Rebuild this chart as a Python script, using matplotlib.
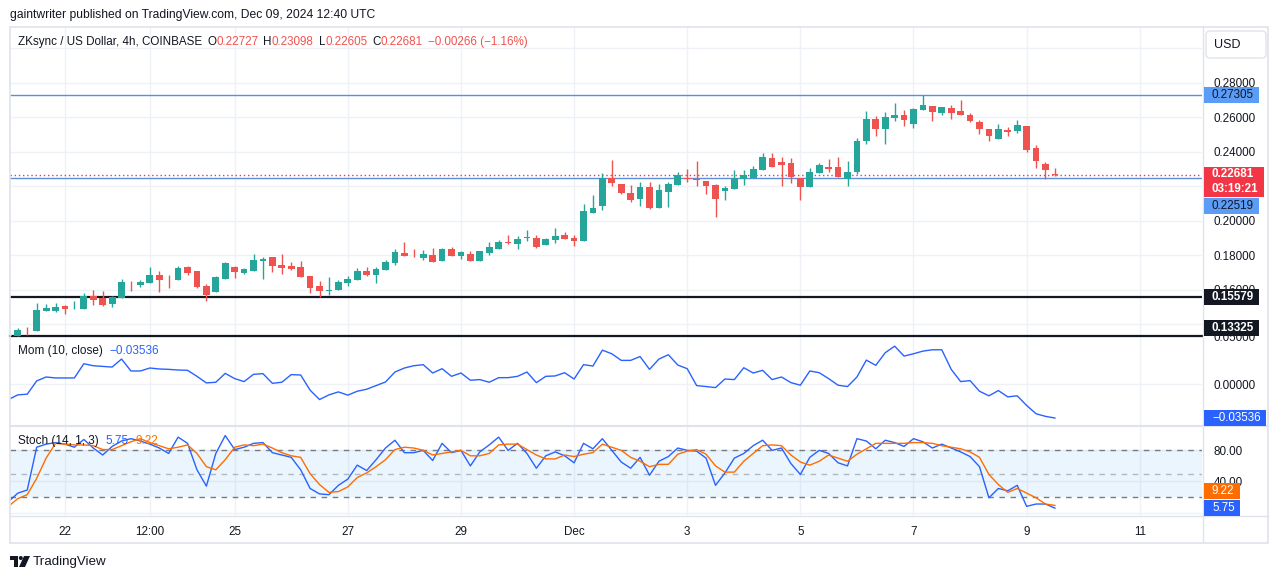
import numpy as np
import matplotlib
matplotlib.use('Agg')
import matplotlib.pyplot as plt
from matplotlib.patches import Rectangle, FancyBboxPatch, Polygon, Circle

plt.rcParams['font.family'] = ['Liberation Sans', 'DejaVu Sans']

# 4h candles ZKsync / USD, k = 0 -> Nov 21 00:00
opens = [0.1336, 0.1333, 0.1368, 0.1362, 0.1478, 0.1478, 0.1507, 0.1493, 0.1490, 0.1565,
         0.1554, 0.1519, 0.1554, 0.1635, 0.1629, 0.1641, 0.1687, 0.1664, 0.1658, 0.1733,
         0.1710, 0.1623, 0.1588, 0.1664, 0.1733, 0.1699, 0.1710, 0.1768, 0.1791, 0.1745,
         0.1739, 0.1733, 0.1681, 0.1623, 0.1594, 0.1600, 0.1641, 0.1658, 0.1710, 0.1687,
         0.1716, 0.1757, 0.1814, 0.1803, 0.1786, 0.1803, 0.1768, 0.1838, 0.1797, 0.1809,
         0.1768, 0.1814, 0.1838, 0.1875, 0.1867, 0.1904, 0.1901, 0.1861, 0.1890, 0.1919,
         0.1901, 0.1884, 0.2046, 0.2087, 0.2249, 0.2214, 0.2162, 0.2127, 0.2197, 0.2075,
         0.2168, 0.2209, 0.2249, 0.2240, 0.2232, 0.2209, 0.2174, 0.2186, 0.2244, 0.2249,
         0.2296, 0.2365, 0.2342, 0.2336, 0.2249, 0.2197, 0.2278, 0.2313, 0.2313, 0.2244,
         0.2284, 0.2464, 0.2591, 0.2533, 0.2597, 0.2614, 0.2562, 0.2643, 0.2667, 0.2626,
         0.2655, 0.2638, 0.2614, 0.2574, 0.2533, 0.2475, 0.2527, 0.2522, 0.2551, 0.2423,
         0.2330, 0.22727]
highs = [0.1338, 0.1378, 0.1385, 0.1525, 0.1519, 0.1525, 0.1513, 0.1536, 0.1583, 0.1600,
         0.1594, 0.1562, 0.1664, 0.1652, 0.1658, 0.1733, 0.1710, 0.1687, 0.1739, 0.1739,
         0.1711, 0.1635, 0.1681, 0.1762, 0.1739, 0.1727, 0.1809, 0.1791, 0.1792, 0.1809,
         0.1762, 0.1768, 0.1682, 0.1652, 0.1675, 0.1658, 0.1681, 0.1727, 0.1733, 0.1733,
         0.1774, 0.1838, 0.1878, 0.1838, 0.1832, 0.1843, 0.1843, 0.1849, 0.1826, 0.1826,
         0.1827, 0.1878, 0.1890, 0.1919, 0.1913, 0.1948, 0.1919, 0.1901, 0.1959, 0.1936,
         0.1919, 0.2099, 0.2151, 0.2278, 0.2354, 0.2215, 0.2209, 0.2226, 0.2226, 0.2214,
         0.2226, 0.2284, 0.2301, 0.2348, 0.2233, 0.2214, 0.2203, 0.2296, 0.2296, 0.2319,
         0.2394, 0.2394, 0.2371, 0.2365, 0.2250, 0.2307, 0.2336, 0.2359, 0.2371, 0.2348,
         0.2481, 0.2638, 0.2609, 0.2632, 0.2684, 0.2643, 0.2655, 0.2730, 0.2668, 0.2662,
         0.2672, 0.2701, 0.2626, 0.2586, 0.2534, 0.2562, 0.2545, 0.2586, 0.2552, 0.2441,
         0.2342, 0.23098]
lows = [0.1330, 0.1331, 0.1338, 0.1360, 0.1476, 0.1472, 0.1461, 0.1492, 0.1488, 0.1513,
        0.1507, 0.1501, 0.1553, 0.1594, 0.1617, 0.1640, 0.1588, 0.1612, 0.1657, 0.1687,
        0.1612, 0.1536, 0.1587, 0.1663, 0.1670, 0.1693, 0.1709, 0.1664, 0.1704, 0.1693,
        0.1716, 0.1674, 0.1583, 0.1559, 0.1571, 0.1599, 0.1623, 0.1657, 0.1681, 0.1641,
        0.1715, 0.1745, 0.1796, 0.1791, 0.1774, 0.1761, 0.1767, 0.1796, 0.1780, 0.1767,
        0.1767, 0.1803, 0.1837, 0.1867, 0.1838, 0.1884, 0.1843, 0.1860, 0.1872, 0.1895,
        0.1855, 0.1883, 0.2045, 0.2064, 0.2203, 0.2157, 0.2110, 0.2087, 0.2070, 0.2074,
        0.2081, 0.2208, 0.2226, 0.2203, 0.2157, 0.2023, 0.2122, 0.2185, 0.2209, 0.2248,
        0.2295, 0.2312, 0.2203, 0.2220, 0.2122, 0.2196, 0.2277, 0.2284, 0.2254, 0.2203,
        0.2272, 0.2446, 0.2493, 0.2446, 0.2580, 0.2551, 0.2539, 0.2642, 0.2580, 0.2614,
        0.2591, 0.2613, 0.2574, 0.2504, 0.2464, 0.2474, 0.2493, 0.2510, 0.2400, 0.2307,
        0.2244, 0.22605]
closes = [0.1333, 0.1367, 0.1365, 0.1484, 0.1496, 0.1501, 0.1490, 0.1496, 0.1565, 0.1542,
          0.1513, 0.1559, 0.1646, 0.1632, 0.1646, 0.1687, 0.1658, 0.1661, 0.1727, 0.1699,
          0.1617, 0.1571, 0.1675, 0.1757, 0.1704, 0.1722, 0.1774, 0.1780, 0.1739, 0.1727,
          0.1722, 0.1675, 0.1612, 0.1594, 0.1597, 0.1646, 0.1664, 0.1710, 0.1687, 0.1722,
          0.1762, 0.1820, 0.1797, 0.1800, 0.1809, 0.1762, 0.1838, 0.1797, 0.1820, 0.1768,
          0.1826, 0.1849, 0.1878, 0.1872, 0.1896, 0.1907, 0.1849, 0.1896, 0.1913, 0.1896,
          0.1884, 0.2058, 0.2075, 0.2249, 0.2220, 0.2162, 0.2122, 0.2197, 0.2075, 0.2180,
          0.2214, 0.2267, 0.2246, 0.2237, 0.2203, 0.2127, 0.2191, 0.2249, 0.2267, 0.2301,
          0.2371, 0.2313, 0.2325, 0.2255, 0.2197, 0.2284, 0.2325, 0.2301, 0.2255, 0.2284,
          0.2464, 0.2591, 0.2533, 0.2603, 0.2614, 0.2586, 0.2649, 0.2672, 0.2632, 0.2661,
          0.2626, 0.2614, 0.2580, 0.2533, 0.2493, 0.2533, 0.2516, 0.2557, 0.2412, 0.2348,
          0.22947, 0.22681]

# Momentum (10, close)
mom = [-0.0160, -0.0111, -0.0104, 0.0035, 0.0076, 0.0066, 0.0066, 0.0066, 0.0215, 0.0194,
       0.0187, 0.0180, 0.0264, 0.0139, 0.0139, 0.0170, 0.0160, 0.0156, 0.0149, 0.0146,
       0.0083, 0.0014, 0.0021, 0.0114, 0.0059, 0.0028, 0.0104, 0.0111, 0.0010, 0.0021,
       0.0101, 0.0097, -0.0062, -0.0160, -0.0111, -0.0080, -0.0114, -0.0073, -0.0052, -0.0014,
       0.0024, 0.0128, 0.0170, 0.0194, 0.0205, 0.0118, 0.0163, 0.0083, 0.0118, 0.0042,
       0.0049, 0.0021, 0.0069, 0.0069, 0.0083, 0.0128, 0.0017, 0.0083, 0.0087, 0.0121,
       0.0055, 0.0205, 0.0191, 0.0357, 0.0319, 0.0250, 0.0250, 0.0290, 0.0156, 0.0264,
       0.0309, 0.0201, 0.0163, -0.0014, -0.0024, -0.0035, 0.0055, 0.0049, 0.0173, 0.0118,
       0.0146, 0.0049, 0.0076, 0.0017, -0.0010, 0.0139, 0.0121, 0.0059, -0.0010, -0.0024,
       0.0076, 0.0253, 0.0198, 0.0330, 0.0399, 0.0295, 0.0319, 0.0347, 0.0361, 0.0361,
       0.0156, 0.0028, 0.0038, -0.0073, -0.0121, -0.0066, -0.0132, -0.0121, -0.0222, -0.0309,
       -0.0336, -0.03536]

# Stoch (14, 1, 3)
stoch_k = [14, 25, 29, 84, 88, 90, 88, 84, 94, 83,
           74, 85, 92, 95, 92, 88, 83, 76, 97, 89,
           55, 34, 76, 99, 81, 84, 89, 90, 77, 74,
           71, 55, 31, 24, 23, 35, 43, 61, 54, 68,
           83, 93, 77, 77, 80, 67, 89, 77, 80, 60,
           78, 87, 97, 80, 89, 76, 57, 73, 78, 73,
           64, 89, 82, 95, 80, 65, 57, 71, 48, 66,
           72, 83, 80, 79, 70, 35, 51, 70, 76, 86,
           93, 80, 83, 63, 49, 71, 80, 76, 64, 60,
           95, 92, 82, 93, 90, 85, 95, 91, 83, 88,
           83, 78, 72, 59, 19, 31, 28, 35, 8, 11,
           11, 5.75]
stoch_d = [8, 18, 23, 44, 70, 89, 88, 87, 87, 86,
           81, 81, 86, 91, 95, 90, 86, 82, 84, 87,
           76, 59, 55, 68, 84, 87, 86, 88, 83, 77,
           73, 71, 50, 36, 26, 27, 33, 45, 51, 59,
           68, 81, 84, 83, 80, 74, 76, 78, 80, 73,
           73, 76, 87, 88, 88, 81, 74, 69, 69, 74,
           72, 75, 77, 88, 84, 80, 71, 66, 59, 62,
           62, 75, 79, 81, 75, 60, 52, 52, 66, 76,
           86, 87, 86, 74, 65, 61, 66, 74, 70, 66,
           75, 82, 89, 89, 89, 89, 90, 90, 89, 86,
           84, 82, 78, 71, 49, 36, 26, 31, 25, 19,
           11, 9.22]

time_ticks = [6, 15, 24, 36, 48, 60, 72, 84, 96, 108, 120]
time_labels = ['22', '12:00', '25', '27', '29', 'Dec', '3', '5', '7', '9', '11']
price_ticks = [0.14, 0.16, 0.18, 0.20, 0.22, 0.24, 0.26, 0.28, 0.30]
hidden_ticks = [0.22, 0.30]   # covered by the labels / USD box

resistance = 0.27305
support_hi = 0.15579
support_lo = 0.13325
blue_level = 0.22519
countdown = '03:19:21'

UP = '#26a69a'
DOWN = '#ef5350'
DARK = '#131722'
GRID = '#eef1f6'
BORDER = '#e0e3eb'
BLUE = '#2962ff'
ORANGE = '#ff6d00'
LBLUE = '#5b9cf6'

W, H = 1281, 579
fig = plt.figure(figsize=(W / 100, H / 100), dpi=100)


def box(x0, y0, x1, y1):
    return [x0 / W, 1 - y1 / H, (x1 - x0) / W, (y1 - y0) / H]


ax1 = fig.add_axes(box(10, 27, 1202, 336.5), zorder=3)
ax2 = fig.add_axes(box(10, 336.5, 1202, 426), zorder=2, sharex=ax1)
ax3 = fig.add_axes(box(10, 426, 1202, 516), zorder=1, sharex=ax1)

k = np.arange(len(closes))
o, hi, lo, c = map(np.array, (opens, highs, lows, closes))
col = np.where(c >= o, UP, DOWN)

# candles
ax1.vlines(k, lo, hi, colors=col, lw=1, zorder=3)
ax1.bar(k, np.maximum(np.abs(c - o), 0.0005), 0.72, bottom=np.minimum(o, c),
        color=col, lw=0, zorder=4)

ax1.axhline(resistance, color='#5b8fdc', lw=1, zorder=2)
ax1.axhline(blue_level, color='#5b8fdc', lw=1, zorder=2)
ax1.axhline(closes[-1], color='#f23645', lw=1, ls=(0, (1, 2)), zorder=2)
ax1.axhline(support_hi, color=DARK, lw=1.6, zorder=2)
ax1.axhline(support_lo, color=DARK, lw=1.6, zorder=2, clip_on=False)
ax1.set_ylim(0.1330, 0.31246)

# momentum
ax2.plot(k, mom, color=BLUE, lw=1)
ax2.set_ylim(-0.0437, 0.05)

# stochastic
ax3.axhspan(20, 80, color='#2196f3', alpha=0.09, lw=0)
ax3.axhline(80, color='#787b86', lw=1, ls=(0, (4, 4)))
ax3.axhline(50, color='#787b86', lw=1, ls=(0, (4, 4)), alpha=0.5)
ax3.axhline(20, color='#787b86', lw=1, ls=(0, (4, 4)))
ax3.plot(k, stoch_k, color=BLUE, lw=1)
ax3.plot(k, stoch_d, color=ORANGE, lw=1)
ax3.set_ylim(-4.4, 111.3)

ax1.set_xlim(0.17, 126.6)
ax3.set_xticks(time_ticks)
ax3.set_xticklabels(time_labels)

ax1.set_yticks(price_ticks)
ax1.set_yticklabels(['' if v in hidden_ticks else '%.5f' % v for v in price_ticks])
ax2.set_yticks([0.0, 0.05])
ax2.set_yticklabels(['0.00000', '0.05000'])
ax3.set_yticks([0, 40, 80])
ax3.set_yticklabels(['', '40.00', '80.00'])

for ax in (ax1, ax2, ax3):
    ax.set_facecolor('none')
    for s in ax.spines.values():
        s.set_visible(False)
    ax.grid(True, color=GRID, lw=1)
    ax.set_axisbelow(True)
    ax.yaxis.tick_right()
    ax.tick_params(axis='y', length=0, pad=8.3, labelsize=8.4, labelcolor=DARK)
    ax.tick_params(axis='x', length=0, pad=7, labelsize=8.4, labelcolor=DARK)
for ax in (ax1, ax2):
    plt.setp(ax.get_xticklabels(), visible=False)

# frame, separators, USD box, logo (pixel coordinates, y down)
ov = fig.add_axes([0, 0, 1, 1], zorder=10)
ov.set_xlim(0, W)
ov.set_ylim(H, 0)
ov.axis('off')
ov.patch.set_alpha(0)
ov.add_patch(Rectangle((10, 27), 1258, 516, fill=False, ec=BORDER, lw=1.2))
ov.plot([1202.5, 1202.5], [27, 543], color=BORDER, lw=1)
ov.plot([10, 1268], [426, 426], color=BORDER, lw=1.5)
ov.plot([10, 1268], [516, 516], color=BORDER, lw=1)
ov.add_patch(FancyBboxPatch((1206, 31), 60, 27, boxstyle='round,pad=0,rounding_size=4',
                            fc='white', ec=BORDER, lw=1))
ov.text(1214, 44.5, 'USD', fontsize=9, color=DARK, va='center')
ov.add_patch(Polygon([(10, 556), (18, 556), (18, 567), (14, 567), (14, 560), (10, 560)],
                     closed=True, fc=DARK, ec='none'))
ov.add_patch(Circle((20.8, 558), 2, fc=DARK, ec='none'))
ov.add_patch(Polygon([(24, 556), (30, 556), (25, 567), (19, 567)], closed=True, fc=DARK, ec='none'))
ov.text(33, 561.5, 'TradingView', fontsize=9.6, color=DARK, va='center')
ov.text(10, 15, 'gaintwriter published on TradingView.com, Dec 09, 2024 12:40 UTC',
        fontsize=8.7, color=DARK, va='center')

rend = fig.canvas.get_renderer()


# price scale labels: box placed at the value's height on its pane
def tag(ax, value, text, fc, tc, dy=0, bold=False, h=16):
    yc = H - ax.transData.transform((0, value))[1] - dy
    t = ov.text(1212, yc, text, fontsize=8.4, color=tc, va='center', ha='left',
                fontweight='bold' if bold else 'normal', linespacing=1.3, zorder=21)
    w = t.get_window_extent(rend).width
    ov.add_patch(Rectangle((1204, yc - h / 2), w + 13, h, fc=fc, ec='none', zorder=20))


tag(ax1, resistance, '%.5f' % resistance, LBLUE, DARK)
tag(ax1, closes[-1], '%.5f\n%s' % (closes[-1], countdown), '#f23645', 'white',
    dy=-7, bold=True, h=30)
tag(ax1, blue_level, '%.5f' % blue_level, LBLUE, DARK, dy=-28.5)
tag(ax1, support_hi, '%.5f' % support_hi, DARK, 'white', bold=True)
tag(ax1, support_lo, '%.5f' % support_lo, DARK, 'white', dy=8.5, bold=True)
tag(ax2, mom[-1], ('%.5f' % mom[-1]).replace('-', '−'), BLUE, 'white')
tag(ax3, stoch_d[-1], '%.2f' % stoch_d[-1], ORANGE, 'white', dy=14)
tag(ax3, stoch_k[-1], '%.2f' % stoch_k[-1], BLUE, 'white')


def legend_row(x, y, parts, size=8.5):
    for s, color, gap in parts:
        t = ov.text(x, y, s, fontsize=size, color=color, va='center')
        x += t.get_window_extent(rend).width + gap


chg = closes[-1] - closes[-2]
pct = chg / closes[-2] * 100
legend_row(18, 42, [('ZKsync / US Dollar, 4h, COINBASE', DARK, 5),
                    ('O', DARK, 0), ('%.5f' % opens[-1], DOWN, 5),
                    ('H', DARK, 0), ('%.5f' % highs[-1], DOWN, 5),
                    ('L', DARK, 0), ('%.5f' % lows[-1], DOWN, 5),
                    ('C', DARK, 0), ('%.5f' % closes[-1], DOWN, 5),
                    (('%.5f (%.2f%%)' % (chg, pct)).replace('-', '−'), DOWN, 0)], size=8.4)
legend_row(18, 351, [('Mom (10, close)', DARK, 7),
                     (('%.5f' % mom[-1]).replace('-', '−'), BLUE, 0)])
legend_row(18, 441, [('Stoch (14, 1, 3)', DARK, 7),
                     ('%.2f' % stoch_k[-1], BLUE, 7),
                     ('%.2f' % stoch_d[-1], ORANGE, 0)])

plt.savefig('out.png', dpi=100)
